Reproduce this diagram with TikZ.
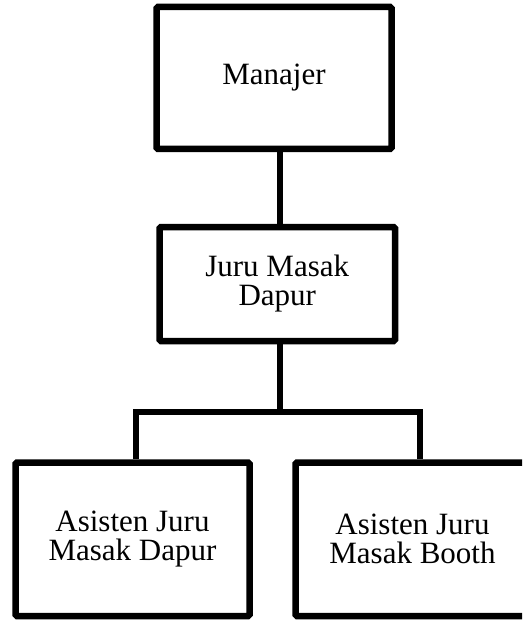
\documentclass[tikz,border=0pt]{standalone}
\usepackage{fontspec}
\setmainfont{Liberation Serif}
\begin{document}
\begin{tikzpicture}[x=1pt,y=-1pt,
  orgbox/.style={draw=black, line width=6.5pt, rectangle, rounded corners=1.5pt,
    inner sep=0pt, align=center, font=\fontsize{31}{29}\selectfont},
  link/.style={draw=black, line width=6.5pt, line join=miter}]
\useasboundingbox (0,0) rectangle (522,620);
\clip (0,0) rectangle (522,620);
\node[orgbox, minimum width=235pt, minimum height=142pt] (man) at (274,78) {Manajer};
\node[orgbox, minimum width=235.5pt, minimum height=114pt] (jmd) at (277.25,284) {Juru Masak\\Dapur};
\node[orgbox, minimum width=234pt, minimum height=153.5pt] (ajd) at (132.5,539.25) {Asisten Juru\\Masak Dapur};
\node[orgbox, minimum width=234pt, minimum height=153.5pt] (ajb) at (412.5,539.25) {Asisten Juru\\Masak Booth};
\coordinate (top) at (280,149);
\coordinate (jn) at (280,412);
\coordinate (lj) at (136,412);
\coordinate (rj) at (420,412);
\draw[link] (man.south -| top) -- (jmd.north -| top);
\draw[link] (jmd.south -| jn) -- (jn);
\draw[link] (ajd.north -| lj) -- (lj) -- (rj) -- (ajb.north -| rj);
\end{tikzpicture}
\end{document}
